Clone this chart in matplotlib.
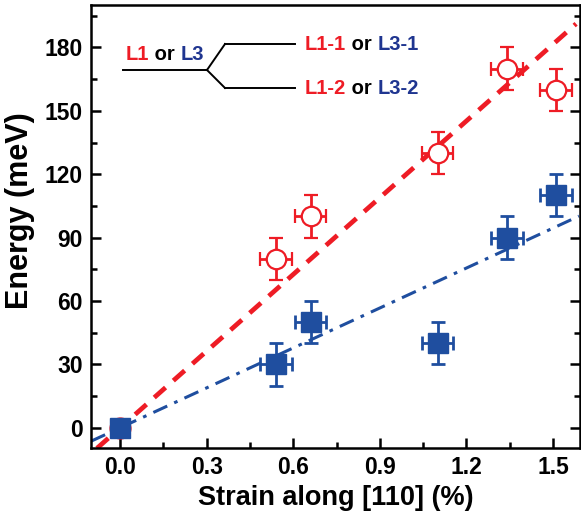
import matplotlib
matplotlib.use('Agg')
import matplotlib.pyplot as plt
import numpy as np
from matplotlib.lines import Line2D

plt.rcParams['font.family'] = ['Liberation Sans', 'DejaVu Sans']
plt.rcParams['font.weight'] = 'bold'

# data
strain_red = [0.54, 0.66, 1.10, 1.34, 1.51]
energy_red = [80, 100, 130, 170, 160]
strain_blue = [0.54, 0.66, 1.10, 1.34, 1.51]
energy_blue = [30, 50, 40, 90, 110]
strain_zero = [0.0]
energy_zero = [0]
xerr = 0.055
yerr = 10
slope_red = 121.0
slope_blue = 63.0
xticks = [0.0, 0.3, 0.6, 0.9, 1.2, 1.5]
yticks = [0, 30, 60, 90, 120, 150, 180]

red = '#ee1c25'
blue = '#1f4e9f'
navy = '#1f3590'

fig = plt.figure(figsize=(5.81, 5.16), dpi=100)
ax = fig.add_axes([0.157, 0.132, 0.841, 0.858])

# fit lines
xr = np.array([-0.08, 1.58])
ax.plot(xr, slope_red * xr, '--', color=red, lw=3.4, dashes=(3.2, 2.2), zorder=2)
xb = np.array([-0.10, 1.59])
ax.plot(xb, slope_blue * xb, '-.', color=blue, lw=2.2, dashes=(5, 2.5, 1.2, 2.5), zorder=2)

# red open circles
ax.errorbar(strain_red, energy_red, xerr=xerr, yerr=yerr, fmt='o', ms=14,
            mfc='white', mec=red, mew=1.6, ecolor=red, elinewidth=2.0,
            capsize=5, capthick=2.0, zorder=3)
# point at the origin (both series), no error bars
ax.plot(strain_zero, energy_zero, 'o', ms=15, mfc=red, mec=red, zorder=3)
ax.plot(strain_zero, energy_zero, 's', ms=15, mfc=blue, mec=blue, zorder=4)
# blue filled squares
ax.errorbar(strain_blue, energy_blue, xerr=xerr, yerr=yerr, fmt='s', ms=15,
            mfc=blue, mec=blue, ecolor=blue, elinewidth=2.0,
            capsize=5, capthick=2.0, zorder=4)

ax.set_xlim(-0.10, 1.593)
ax.set_ylim(-9.5, 200)
ax.set_xticks(xticks)
ax.set_xticklabels(['%.1f' % v for v in xticks])
ax.set_yticks(yticks)
ax.set_xticks(np.arange(0.15, 1.6, 0.3), minor=True)
ax.set_yticks(np.arange(15, 200, 30), minor=True)
ax.tick_params(which='major', direction='in', length=7, width=1.8, labelsize=16.5,
               top=False, right=True, pad=6)
ax.tick_params(which='minor', direction='in', length=4, width=1.8, top=False, right=True)
for s in ax.spines.values():
    s.set_linewidth(1.8)
for lab in ax.get_xticklabels() + ax.get_yticklabels():
    lab.set_fontweight('bold')

ax.set_xlabel('Strain along [110] (%)', fontsize=19.5, fontweight='bold', labelpad=4)
ax.set_ylabel('Energy (meV)', fontsize=22, fontweight='bold')
ax.yaxis.set_label_coords(-0.115, 0.535)

# branching scheme in the upper left
W, H = 581.0, 516.0
def fx(x):
    return x / W
def fy(y):
    return 1 - y / H

segs = [((123, 70), (207, 70)), ((207, 70), (225, 44)), ((225, 44), (295, 44)),
        ((207, 70), (225, 88)), ((225, 88), (295, 88))]
for (x0, y0), (x1, y1) in segs:
    fig.add_artist(Line2D([fx(x0), fx(x1)], [fy(y0), fy(y1)], color='black', lw=1.4))

def colored(x, y, parts):
    t = fig.text(fx(x), fy(y), parts[0][0], color=parts[0][1], fontsize=14.5,
                 fontweight='bold', va='center', ha='left')
    for txt, col in parts[1:]:
        t = ax.annotate(txt, xy=(1, 0), xycoords=t, va='bottom', ha='left',
                        color=col, fontsize=14.5, fontweight='bold')
    return t

colored(126, 54, [('L1', red), (' or ', 'black'), ('L3', navy)])
colored(305, 45, [('L1-1', red), (' or ', 'black'), ('L3-1', navy)])
colored(305, 89, [('L1-2', red), (' or ', 'black'), ('L3-2', navy)])

fig.savefig('out.png', dpi=100)
